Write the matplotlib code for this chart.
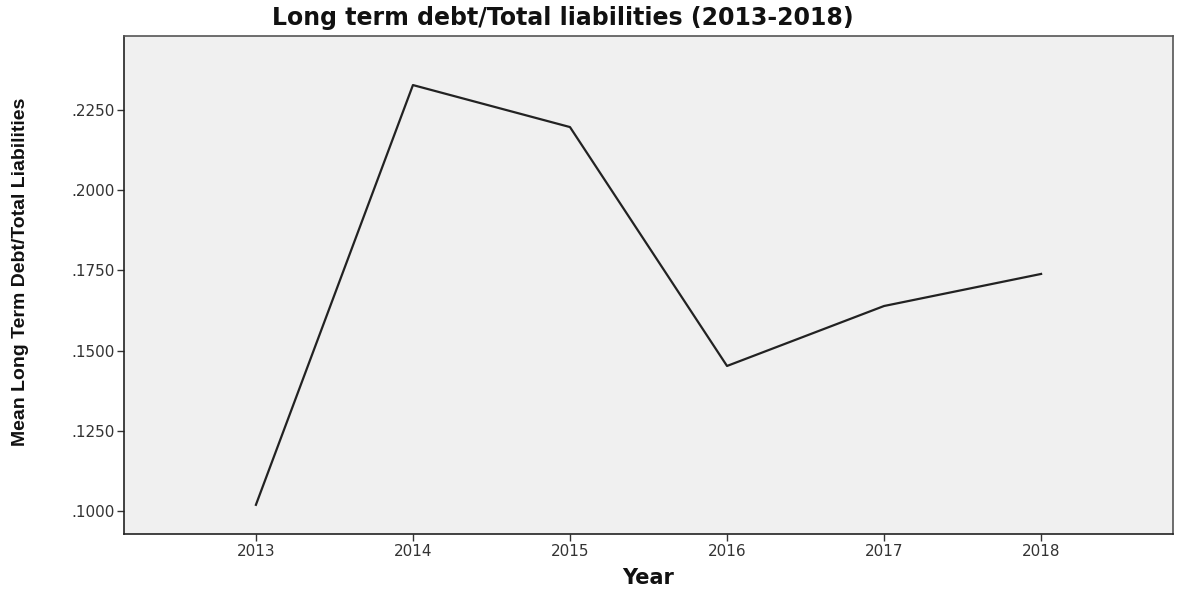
import matplotlib
matplotlib.use("Agg")
import matplotlib.pyplot as plt
from matplotlib import font_manager

years = [2013, 2014, 2015, 2016, 2017, 2018]
mean_ratio = [0.1019, 0.2328, 0.2197, 0.1452, 0.1639, 0.1739]
ytick_vals = [0.1000, 0.1250, 0.1500, 0.1750, 0.2000, 0.2250]
ytick_labels = [".1000", ".1250", ".1500", ".1750", ".2000", ".2250"]

names = {f.name for f in font_manager.fontManager.ttflist}
narrow = "Liberation Sans Narrow" if "Liberation Sans Narrow" in names else "Liberation Sans"

plt.rcParams['font.family'] = ['DejaVu Sans']

fig = plt.figure(figsize=(11.78, 5.90), dpi=100)
ax = fig.add_axes([124/1178, 56/590, (1173-124)/1178, (534-36)/590])
ax.set_facecolor('#f0f0f0')
ax.plot(years, mean_ratio, color='#222222', linewidth=1.6)

ax.set_xlim(2012.16, 2018.84)
ax.set_ylim(0.0928, 0.2481)
ax.set_xticks(years)
ax.set_xticklabels([str(y) for y in years], fontsize=11, color='#333333')
ax.set_yticks(ytick_vals)
ax.set_yticklabels(ytick_labels, fontsize=11, color='#333333')
ax.tick_params(direction='out', length=5, width=1, color='#333333', pad=2)

for s in ['left', 'bottom']:
    ax.spines[s].set_color('#222222')
    ax.spines[s].set_linewidth(1.2)
for s in ['top', 'right']:
    ax.spines[s].set_color('#555555')
    ax.spines[s].set_linewidth(1.2)

fig.text(563/1178, 1 - 18/590, "Long term debt/Total liabilities (2013-2018)",
         ha='center', va='center', fontsize=17, fontweight='bold',
         fontstretch='normal', color='#111111')
fig.text(648/1178, 1 - 578/590, "Year", ha='center', va='center',
         fontsize=15, fontweight='bold', fontstretch='normal', color='#111111')
fig.text(21/1178, 1 - 272/590, "Mean Long Term Debt/Total Liabilities",
         ha='center', va='center', rotation=90, fontsize=14, fontweight='bold',
         color='#111111', family=[narrow, 'DejaVu Sans'])

fig.savefig("out.png", dpi=100)
